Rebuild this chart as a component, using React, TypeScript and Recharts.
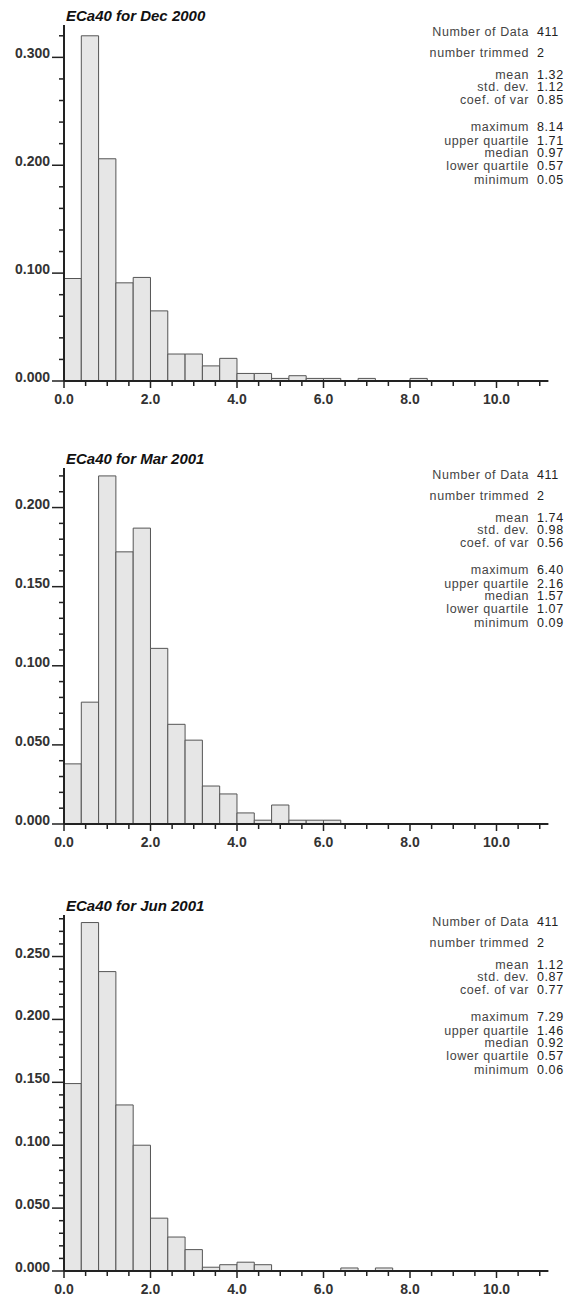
import React from 'react';
import { BarChart, Bar, XAxis, YAxis } from 'recharts';

// histogram bins are 0.4 wide, centred on these values
const binCenters = [
  0.2, 0.6, 1.0, 1.4, 1.8, 2.2, 2.6, 3.0, 3.4, 3.8, 4.2, 4.6, 5.0, 5.4,
  5.8, 6.2, 6.6, 7.0, 7.4, 7.8, 8.2, 8.6, 9.0, 9.4, 9.8, 10.2, 10.6, 11.0,
];

const freqDec2000 = [
  0.095, 0.32, 0.206, 0.091, 0.096, 0.065, 0.025, 0.025, 0.014, 0.021,
  0.007, 0.007, 0.0024, 0.0049, 0.0024, 0.0024, 0, 0.0024, 0, 0,
  0.0024, 0, 0, 0, 0, 0, 0, 0,
];

const freqMar2001 = [
  0.038, 0.077, 0.22, 0.172, 0.187, 0.111, 0.063, 0.053, 0.024, 0.019,
  0.007, 0.0024, 0.012, 0.0024, 0.0024, 0.0024, 0, 0, 0, 0,
  0, 0, 0, 0, 0, 0, 0, 0,
];

const freqJun2001 = [
  0.149, 0.277, 0.238, 0.132, 0.1, 0.042, 0.027, 0.017, 0.003, 0.005,
  0.007, 0.005, 0, 0, 0, 0, 0.0024, 0, 0.0024, 0,
  0, 0, 0, 0, 0, 0, 0, 0,
];

const xTicks = [
  0, 0.5, 1, 1.5, 2, 2.5, 3, 3.5, 4, 4.5, 5, 5.5, 6, 6.5, 7, 7.5, 8, 8.5,
  9, 9.5, 10, 10.5, 11,
];
const xLabels = [0, 2, 4, 6, 8, 10];

const yTicksDec = [
  0, 0.02, 0.04, 0.06, 0.08, 0.1, 0.12, 0.14, 0.16, 0.18, 0.2, 0.22, 0.24,
  0.26, 0.28, 0.3, 0.32,
];
const yLabelsDec = [0, 0.1, 0.2, 0.3];

const yTicksMar = [
  0, 0.01, 0.02, 0.03, 0.04, 0.05, 0.06, 0.07, 0.08, 0.09, 0.1, 0.11, 0.12,
  0.13, 0.14, 0.15, 0.16, 0.17, 0.18, 0.19, 0.2, 0.21, 0.22,
];
const yLabelsMar = [0, 0.05, 0.1, 0.15, 0.2];

const yTicksJun = [
  0, 0.01, 0.02, 0.03, 0.04, 0.05, 0.06, 0.07, 0.08, 0.09, 0.1, 0.11, 0.12,
  0.13, 0.14, 0.15, 0.16, 0.17, 0.18, 0.19, 0.2, 0.21, 0.22, 0.23, 0.24,
  0.25, 0.26, 0.27, 0.28,
];
const yLabelsJun = [0, 0.05, 0.1, 0.15, 0.2, 0.25];

const statNames = [
  'Number of Data',
  'number trimmed',
  'mean',
  'std. dev.',
  'coef. of var',
  'maximum',
  'upper quartile',
  'median',
  'lower quartile',
  'minimum',
];
const statsDec2000 = ['411', '2', '1.32', '1.12', '0.85', '8.14', '1.71', '0.97', '0.57', '0.05'];
const statsMar2001 = ['411', '2', '1.74', '0.98', '0.56', '6.40', '2.16', '1.57', '1.07', '0.09'];
const statsJun2001 = ['411', '2', '1.12', '0.87', '0.77', '7.29', '1.46', '0.92', '0.57', '0.06'];

// layout
const CHART_W = 571;
const PLOT_LEFT = 64;
const PLOT_W = 484.4;
const PLOT_H = 356;
const TOP_PAD = 25;
const AXIS_H = 34;
const X_MAX = 11.2;
const statLines = [36, 57, 78.5, 90.5, 103.5, 131, 144.5, 157, 170, 183.5];

const FONT = '"Liberation Sans", Arial, Helvetica, sans-serif';

const hasLabel = (labels: number[], v: number) =>
  labels.some((l) => Math.abs(l - v) < 1e-9);

const XTick = (props: any) => {
  const { x, y, payload } = props;
  const major = hasLabel(xLabels, payload.value);
  return (
    <g>
      <line x1={x} x2={x} y1={y} y2={y + (major ? 7 : 5)} stroke='#222' strokeWidth={1.5} />
      {major && (
        <text x={x} y={y + 22.5} textAnchor='middle' fontFamily={FONT} fontSize={14} fontWeight='bold' fill='#333'>
          {payload.value.toFixed(1)}
        </text>
      )}
    </g>
  );
};

const YTick = (props: any) => {
  const { x, y, payload, labels } = props;
  const major = hasLabel(labels, payload.value);
  return (
    <g>
      <line x1={x - (major ? 12 : 5)} x2={x} y1={y} y2={y} stroke='#222' strokeWidth={1.5} />
      {major && (
        <text x={x - 14} y={y + 1} textAnchor='end' fontFamily={FONT} fontSize={14} fontWeight='bold' fill='#333'>
          {payload.value.toFixed(3)}
        </text>
      )}
    </g>
  );
};

type PanelProps = {
  plotTop: number;
  title: string;
  freqs: number[];
  yMax: number;
  yTicks: number[];
  yLabels: number[];
  stats: string[];
};

const Histogram: React.FC<PanelProps> = ({ plotTop, title, freqs, yMax, yTicks, yLabels, stats }) => {
  const data = binCenters.map((x, i) => ({ x, freq: freqs[i] }));
  const h = TOP_PAD + PLOT_H + AXIS_H;
  // a hair under the bin width, otherwise recharts shrinks bars to 90%
  const barWidth = PLOT_W / binCenters.length - 0.02;
  return (
    <div style={{ position: 'absolute', left: 0, top: plotTop - TOP_PAD, width: CHART_W, height: h }}>
      <BarChart
        width={CHART_W}
        height={h}
        data={data}
        margin={{ top: TOP_PAD, right: CHART_W - PLOT_LEFT - PLOT_W, bottom: 0, left: 0 }}
        barCategoryGap={0}
        barGap={0}
      >
        <XAxis
          dataKey='x'
          type='number'
          domain={[0, X_MAX]}
          allowDataOverflow
          ticks={xTicks}
          interval={0}
          height={AXIS_H}
          tickSize={0}
          tickMargin={0}
          tickLine={false}
          axisLine={{ stroke: '#222', strokeWidth: 2 }}
          tick={(p: any) => <XTick {...p} />}
        />
        <YAxis
          type='number'
          domain={[0, yMax]}
          allowDataOverflow
          ticks={yTicks}
          interval={0}
          width={PLOT_LEFT}
          tickSize={0}
          tickMargin={0}
          tickLine={false}
          axisLine={{ stroke: '#222', strokeWidth: 2 }}
          tick={(p: any) => <YTick {...p} labels={yLabels} />}
        />
        <Bar
          dataKey='freq'
          barSize={barWidth}
          fill='#e6e6e6'
          stroke='#555'
          strokeWidth={1}
          isAnimationActive={false}
        />
      </BarChart>
      <svg
        width={CHART_W}
        height={h}
        style={{ position: 'absolute', left: 0, top: 0, pointerEvents: 'none' }}
      >
        <text x={66} y={TOP_PAD - 4.3} fontFamily={FONT} fontSize={15} fontWeight='bold' fontStyle='italic' fill='#111'>
          {title}
        </text>
        {statNames.map((name, i) => (
          <g key={name}>
            <text x={529} y={statLines[i]} textAnchor='end' fontFamily={FONT} fontSize={12.5} letterSpacing={0.6} fill='#444'>
              {name}
            </text>
            <text x={537} y={statLines[i]} fontFamily={FONT} fontSize={12.5} letterSpacing={0.6} fill='#222'>
              {stats[i]}
            </text>
          </g>
        ))}
      </svg>
    </div>
  );
};

export default function App() {
  return (
    <div style={{ position: 'absolute', left: 0, top: 0, width: CHART_W, height: 1299, background: '#fff' }}>
      <Histogram
        plotTop={25}
        title='ECa40 for Dec 2000'
        freqs={freqDec2000}
        yMax={0.33}
        yTicks={yTicksDec}
        yLabels={yLabelsDec}
        stats={statsDec2000}
      />
      <Histogram
        plotTop={468}
        title='ECa40 for Mar 2001'
        freqs={freqMar2001}
        yMax={0.225}
        yTicks={yTicksMar}
        yLabels={yLabelsMar}
        stats={statsMar2001}
      />
      <Histogram
        plotTop={915}
        title='ECa40 for Jun 2001'
        freqs={freqJun2001}
        yMax={0.283}
        yTicks={yTicksJun}
        yLabels={yLabelsJun}
        stats={statsJun2001}
      />
    </div>
  );
}
